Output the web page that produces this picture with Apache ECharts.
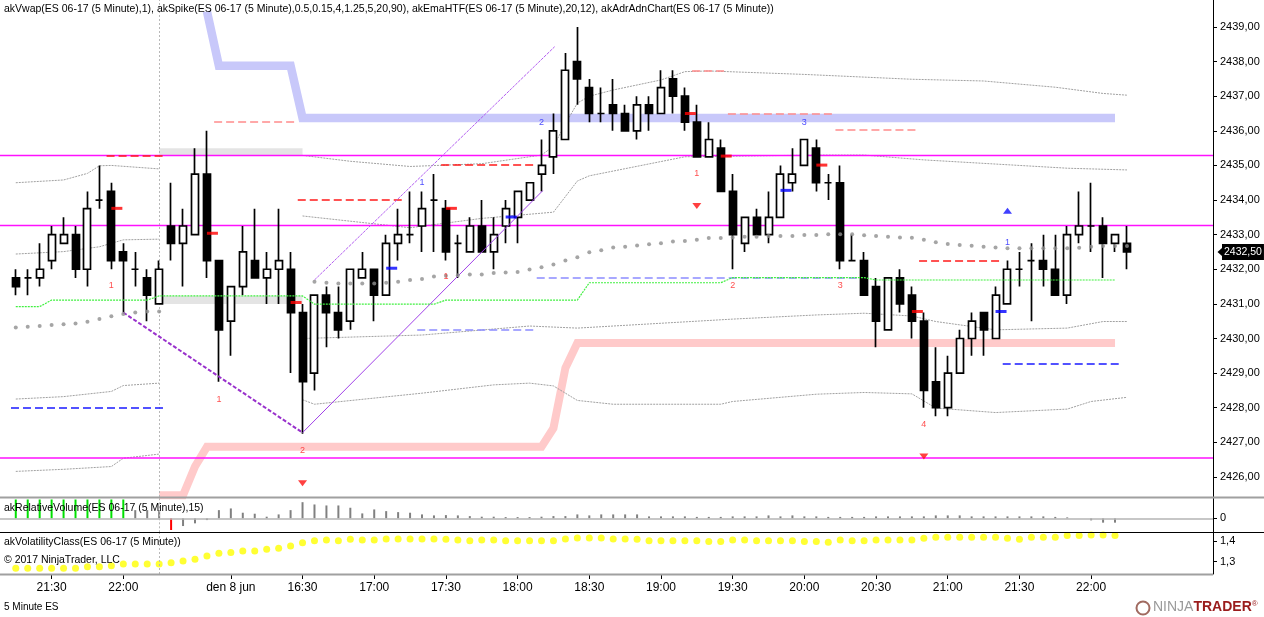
<!DOCTYPE html>
<html><head><meta charset="utf-8">
<script src="https://cdn.jsdelivr.net/npm/echarts@6/dist/echarts.min.js"></script>
<style>html,body{margin:0;padding:0;background:#fff}#c{width:1264px;height:617px}</style>
</head><body><div id="c"></div>
<script>
// ---------- categories (5 minute bars) ----------
const session1Times = ['21:15','21:20','21:25','21:30','21:35','21:40','21:45','21:50','21:55','22:00','22:05','22:10','22:15'];
const session2Times = ['15:35','15:40','15:45','15:50','15:55',
 '16:00','16:05','16:10','16:15','16:20','16:25','16:30','16:35','16:40','16:45','16:50','16:55',
 '17:00','17:05','17:10','17:15','17:20','17:25','17:30','17:35','17:40','17:45','17:50','17:55',
 '18:00','18:05','18:10','18:15','18:20','18:25','18:30','18:35','18:40','18:45','18:50','18:55',
 '19:00','19:05','19:10','19:15','19:20','19:25','19:30','19:35','19:40','19:45','19:50','19:55',
 '20:00','20:05','20:10','20:15','20:20','20:25','20:30','20:35','20:40','20:45','20:50','20:55',
 '21:00','21:05','21:10','21:15','21:20','21:25','21:30','21:35','21:40','21:45','21:50','21:55',
 '22:00','22:05','22:10','22:15'];
const times = session1Times.concat(session2Times);
const tickBars = [3, 9, 18, 24, 30, 36, 42, 48, 54, 60, 66, 72, 78, 84, 90];
const tickLabels = ['21:30','22:00','den 8 jun','16:30','17:00','17:30','18:00','18:30','19:00','19:30','20:00','20:30','21:00','21:30','22:00'];
const priceTicks = [2426,2427,2428,2429,2430,2431,2432,2433,2434,2435,2436,2437,2438,2439];
const volTicks = [0];
const volatTicks = [1.3, 1.4];
const sessionBreakBar = 12;
const lastPrice = 2432.50;

// ---------- OHLC ----------
const open = [2431.75,2431.75,2431.75,2432.25,2432.75,2433.0,2432.0,2434.0,2434.25,2432.5,2432.0,2431.75,2431.0,
 2433.25,2432.75,2433.0,2434.75,2432.25,2430.5,2431.5,2432.25,2431.75,2432.0,2432.0,2430.75,2429.0,2431.25,2430.75,2430.5,
 2431.75,2432.0,2431.25,2432.75,2433.0,2433.25,2434.0,2433.75,2432.75,2432.5,2433.25,2432.5,2433.25,2433.5,2434.0,2434.75,
 2435.25,2435.75,2438.0,2437.25,2436.5,2436.75,2436.5,2436.0,2436.75,2436.5,2437.5,2437.0,2436.25,2435.25,2435.5,2434.25,
 2432.75,2433.5,2433.0,2433.5,2434.5,2435.0,2435.5,2434.5,2434.5,2432.25,2432.25,2431.5,2430.25,2431.75,2431.25,2430.5,
 2428.75,2428.0,2429.0,2430.0,2430.75,2430.0,2431.0,2432.0,2432.25,2432.25,2432.0,2431.25,2433.0,2433.25,2433.25,2432.75,2432.75];
const close = [2431.5,2431.75,2432.0,2433.0,2433.0,2432.0,2433.75,2434.0,2432.25,2432.25,2432.0,2431.25,2432.0,
 2432.75,2433.25,2434.75,2432.25,2430.25,2431.5,2432.5,2431.75,2432.0,2432.25,2430.75,2428.75,2431.25,2430.75,2430.25,2432.0,
 2432.0,2431.25,2432.75,2433.0,2433.0,2433.75,2434.0,2432.5,2432.75,2433.25,2432.5,2433.0,2433.75,2434.25,2434.5,2435.0,
 2436.0,2437.75,2437.5,2436.5,2436.5,2436.5,2436.0,2436.75,2436.5,2437.25,2437.0,2436.25,2435.25,2435.75,2434.25,2433.0,
 2433.5,2433.0,2433.5,2434.75,2434.75,2435.75,2434.5,2434.5,2432.25,2432.25,2431.25,2430.5,2431.75,2431.0,2430.5,2428.5,
 2428.0,2429.0,2430.0,2430.5,2430.25,2431.25,2432.0,2432.0,2432.25,2432.0,2431.25,2433.0,2433.25,2433.25,2432.75,2433.0,2432.5];
const low = [2431.25,2431.25,2431.5,2432.0,2432.75,2431.75,2431.5,2433.75,2432.0,2430.75,2431.5,2430.5,2431.0,
 2432.25,2431.5,2433.0,2431.75,2428.75,2429.5,2431.25,2431.75,2431.0,2431.0,2429.0,2427.25,2428.5,2429.75,2430.0,2430.25,
 2431.75,2430.5,2431.25,2432.25,2432.75,2432.5,2432.5,2432.25,2431.75,2432.5,2432.5,2432.0,2432.75,2432.75,2434.0,2434.25,
 2434.75,2435.75,2436.75,2436.25,2436.25,2436.0,2436.0,2435.75,2436.0,2436.5,2436.5,2436.0,2435.25,2435.25,2434.25,2432.0,
 2432.5,2433.0,2432.75,2433.5,2434.25,2435.0,2434.25,2434.0,2432.0,2432.25,2431.25,2429.75,2430.25,2430.75,2430.0,2428.0,
 2427.75,2427.75,2429.0,2429.5,2429.5,2430.0,2431.0,2431.5,2430.5,2431.5,2431.25,2431.0,2432.75,2432.5,2431.75,2432.5,2432.0];
const high = [2432.0,2432.0,2432.75,2433.25,2433.5,2433.25,2434.25,2435.0,2434.5,2432.75,2432.5,2432.0,2432.25,
 2434.5,2433.75,2435.5,2436.0,2432.25,2431.5,2433.25,2433.75,2432.5,2433.75,2432.5,2431.0,2431.25,2431.5,2431.5,2432.0,
 2432.5,2432.0,2433.0,2433.75,2434.25,2434.25,2434.75,2434.0,2433.0,2433.5,2434.0,2433.5,2434.0,2434.25,2434.5,2435.75,
 2436.5,2438.25,2439.0,2437.5,2437.25,2437.5,2436.75,2437.0,2437.0,2437.75,2437.75,2437.25,2436.75,2436.25,2435.75,2434.75,
 2433.5,2433.75,2434.25,2435.0,2435.5,2435.75,2435.75,2434.75,2435.0,2433.0,2432.5,2431.75,2431.75,2432.0,2431.5,2430.75,
 2429.75,2429.5,2430.25,2430.75,2430.75,2431.5,2432.25,2432.5,2432.75,2433.0,2433.0,2433.25,2434.25,2434.5,2433.5,2433.0,2433.25];

// ---------- indicators ----------
const vwap = [2430.32,2430.34,2430.36,2430.39,2430.41,2430.43,2430.48,2430.56,2430.64,2430.71,2430.75,2430.78,2430.78,
 null,null,null,null,null,null,null,null,null,null,null,null,
 2431.64,2431.61,2431.59,2431.59,2431.59,2431.59,2431.61,2431.64,
 2431.69,2431.72,2431.79,2431.81,2431.83,2431.85,2431.85,2431.89,2431.91,2431.92,2431.99,2432.06,2432.14,2432.25,2432.35,
 2432.49,2432.55,2432.63,2432.65,2432.69,2432.72,2432.75,2432.8,2432.82,2432.85,
 2432.9,2432.9,2432.92,2432.94,2432.94,2432.96,2432.96,2432.96,
 2432.99,2432.99,2433.01,2433.01,2433.01,2432.98,2432.96,2432.94,2432.92,2432.91,2432.85,2432.78,2432.73,2432.7,2432.68,
 2432.65,2432.63,2432.61,2432.61,2432.61,2432.61,2432.61,2432.61,2432.62,2432.65,2432.67,2432.67,2432.67];
const emaHtf = [2430.92,2430.92,2430.92,2431.11,2431.11,2431.11,2431.11,2431.11,2431.11,2431.11,2431.11,2431.11,
 2431.23,2431.23,2431.23,2431.23,2431.23,2431.23,2431.23,2431.23,2431.23,2431.23,2431.23,2431.23,2431.23,
 2430.99,2430.99,2430.99,2430.99,2430.99,2430.99,2430.99,2430.99,2430.99,2430.99,2430.99,
 2431.11,2431.11,2431.11,2431.11,2431.11,2431.11,2431.11,2431.11,2431.11,2431.11,2431.11,2431.11,
 2431.61,2431.61,2431.61,2431.61,2431.61,2431.61,2431.61,2431.61,2431.61,2431.61,2431.61,2431.61,
 2431.76,2431.76,2431.76,2431.76,2431.76,2431.76,2431.76,2431.76,2431.76,2431.76,2431.76,2431.76,
 2431.69,2431.69,2431.69,2431.69,2431.69,2431.69,2431.69,2431.69,2431.69,2431.69,2431.69,2431.69,2431.69,2431.69,
 2431.69,2431.69,2431.69,2431.69,2431.69,2431.69,2431.69,null];
const htfUpper = [null,null,null,null,null,null,null,null,null,null,null,null,null,null,null,null,
 2439.45,2437.88,2437.88,2437.88,2437.88,2437.88,2437.88,2437.88,
 2436.37,2436.37,2436.37,2436.37,2436.37,2436.37,2436.37,2436.37,2436.37,2436.37,2436.37,2436.37,2436.37,2436.37,2436.37,
 2436.37,2436.37,2436.37,2436.37,2436.37,2436.37,2436.37,2436.37,2436.37,2436.37,2436.37,2436.37,2436.37,2436.37,2436.37,
 2436.37,2436.37,2436.37,2436.37,2436.37,2436.37,2436.37,2436.37,2436.37,2436.37,2436.37,2436.37,2436.37,2436.37,2436.37,
 2436.37,2436.37,2436.37,2436.37,2436.37,2436.37,2436.37,2436.37,2436.37,2436.37,2436.37,2436.37,2436.37,2436.37,2436.37,
 2436.37,2436.37,2436.37,2436.37,2436.37,2436.37,2436.37,2436.37,2436.37,null];
const htfLower = [null,null,null,null,null,null,null,null,null,null,null,null,
 2425.47,2425.47,2425.47,2426.3,
 2426.87,2426.87,2426.87,2426.87,2426.87,2426.87,2426.87,2426.87,2426.87,2426.87,2426.87,2426.87,2426.87,2426.87,
 2426.87,2426.87,2426.87,2426.87,2426.87,2426.87,2426.87,2426.87,2426.87,2426.87,2426.87,2426.87,2426.87,2426.87,2426.87,
 2427.41,2429.15,
 2429.87,2429.87,2429.87,2429.87,2429.87,2429.87,2429.87,2429.87,2429.87,2429.87,2429.87,2429.87,2429.87,2429.87,2429.87,
 2429.87,2429.87,2429.87,2429.87,2429.87,2429.87,2429.87,2429.87,2429.87,2429.87,2429.87,2429.87,2429.87,2429.87,2429.87,
 2429.87,2429.87,2429.87,2429.87,2429.87,2429.87,2429.87,2429.87,2429.87,2429.87,2429.87,2429.87,2429.87,2429.87,2429.87,
 2429.87,null];
// ADR bands: [bar, price]
const adrA1 = [[0,2434.5],[4,2434.58],[6,2434.77],[7,2434.99],[8,2435.0],[12,2434.9]];
const adrB1 = [[0,2432.44],[4,2432.51],[7,2432.65],[9,2432.85],[12,2432.87]];
const adrC1 = [[0,2428.25],[4,2428.32],[8,2428.47],[9,2428.64],[12,2428.71]];
const adrD1 = [[0,2426.16],[4,2426.22],[8,2426.3],[9,2426.54],[12,2426.66]];
const adrA2 = [[24,2435.29],[28,2435.12],[33,2434.97],[39,2435.05],[44,2435.3],[45,2435.55],[46,2436.2],[47,2436.8],[48,2437.0],[50,2437.18],[54,2437.47],[56,2437.71],[58,2437.73],[66,2437.63],[75,2437.49],[81,2437.44],[87,2437.26],[91,2437.08],[93,2437.03]];
const adrB2 = [[24,2433.54],[33,2433.2],[39,2433.47],[45,2433.65],[46,2434.1],[47,2434.55],[48,2434.7],[56,2435.25],[67,2435.3],[71,2435.3],[76,2435.16],[88,2434.92],[93,2434.87]];
const adrC2 = [[24,2430.0],[34,2430.1],[43,2430.36],[47,2430.3],[60,2430.56],[67,2430.68],[71,2430.73],[75,2430.65],[77,2430.49],[82,2430.25],[88,2430.3],[91,2430.49],[93,2430.49]];
const adrD2 = [[24,2428.23],[25,2428.1],[34,2428.42],[40,2428.66],[43,2428.71],[45,2428.63],[47,2428.21],[50,2428.1],[59,2428.1],[60,2428.18],[67,2428.39],[71,2428.44],[75,2428.4],[77,2427.99],[82,2427.86],[88,2427.96],[90,2428.18],[93,2428.3]];
// horizontal levels
const magentaLevels = [2435.29, 2433.26, 2426.54];
const levelFrom  = [0, 8, 17, 24, 36, 34, 44, 57, 60, 69, 76, 83];
const levelTo    = [12, 12, 23, 32, 43, 43, 70, 59, 68, 75, 82, 92];
const levelPrice = [2428.01, 2435.28, 2436.26, 2434.02, 2435.01, 2430.25, 2431.76, 2437.75, 2436.5, 2436.02, 2432.25, 2429.26];
const levelKind  = ['B','R','r','R','R','b','b','r','r','r','R','B'];
const boxFrom = [12, 12], boxTo = [24, 24], boxLow = [2435.28, 2431.0], boxHigh = [2435.5, 2431.23];
// spike marks
const markBars   = [8, 16, 23, 36, 56, 59, 67, 75, 31, 41, 64, 82];
const markPrices = [2433.76, 2433.04, 2431.04, 2433.76, 2436.5, 2435.27, 2435.01, 2430.78, 2432.03, 2433.51, 2434.28, 2430.78];
const markSides  = ['dn','dn','dn','dn','dn','dn','dn','dn','up','up','up','up'];
const signalBars   = [8, 17, 24, 34, 36, 44, 57, 60, 66, 69, 83, 76];
const signalPrices = [2431.52, 2428.25, 2426.76, 2434.5, 2431.79, 2436.24, 2434.77, 2431.53, 2436.24, 2431.53, 2432.77, 2427.5];
const signalTexts  = ['1','1','2','1','1','2','1','2','3','3','1','4'];
const signalSides  = ['dn','dn','dn','up','dn','up','dn','dn','up','dn','up','dn'];
const triBars = [24, 57, 76, 83], triPrices = [2425.82, 2433.83, 2426.59, 2433.69], triSides = ['dn','dn','dn','up'];
const spikeLeg   = [[9, 2430.75], [24, 2427.28]];
const channelLow = [[24, 2427.28], [44.1, 2434.27]];
const channelHigh= [[25, 2431.69], [45.1, 2438.43]];
// relative volume & volatility
const relVol = [19,19,19,19,19,19,19,19,19,19,8.3,8.3,8.3,
 -11.7,-7.7,-5,-1.7,8.3,10,5.7,4.7,1.7,4,8.3,16.3,14,13,13,10.7,5,9,7.3,6.3,5.7,4,3,3.3,3,2.3,1.7,1.7,1.3,1.3,1.3,1.7,2.3,2.3,4,3,4,4,4,4,
 2,2,2,2,1.5,1.5,1.5,2,2,2,3,2,3,2,2,1.5,1.5,1.5,1.5,2,2,2,2,2,3,3,3,2,2,2,2,2,2,2,1.5,1,0,-2,-4.3,-4.3,null];
const relVolKind = ['G','G','G','G','G','G','G','G','G','G','N','N','N','R'];
const volat = [1.268,1.268,1.268,1.268,1.268,1.268,1.276,1.276,1.281,1.289,1.289,1.289,1.289,
 1.295,1.303,1.312,1.328,1.341,1.345,1.352,1.352,1.36,1.365,1.376,1.392,1.401,1.405,1.401,1.408,1.405,1.405,
 1.41,1.41,1.41,1.41,1.41,1.408,1.405,1.401,1.405,1.405,1.401,1.401,1.401,1.401,1.401,1.41,1.414,1.414,1.414,1.41,1.41,1.408,
 1.401,1.401,1.401,1.401,1.401,1.397,1.397,1.405,1.405,1.401,1.401,1.401,1.401,1.397,1.397,1.394,1.405,1.401,1.401,
 1.405,1.405,1.405,1.405,1.413,1.418,1.418,1.418,1.418,1.418,1.418,1.413,1.408,1.418,1.418,1.418,1.426,1.426,1.429,1.429,1.426,null];

// ---------- styling / layout ----------
const FONT = '"Liberation Sans", Arial, sans-serif';
const X_MIN = -1.32, X_MAX = 100.2;
const kindColor = {R:'#ff1a1a', r:'#ff8c8c', B:'#1a1aff', b:'#8c8cff'};
const sideColor = {dn:'#ff2020', up:'#2020ff'};
const volColor = {G:'#00e000', R:'#ff0000', N:'#808080'};
const fmtPrice = v => v.toFixed(2).replace('.', ',');
const xAxisBase = (g) => ({type:'value', gridIndex:g, min:X_MIN, max:X_MAX, show:g===2,
  axisLine:{show:false}, splitLine:{show:false}, axisTick:{show:false}, axisLabel:{show:false}});

const chart = echarts.init(document.getElementById('c'), null, {renderer:'canvas'});
const candleData = open.map((o,i)=>[i, o, close[i], low[i], high[i]]);
const idx = arr => arr.map((v,i)=>[i, v]);

const series = [];
// background boxes + session break
series.push({type:'line', xAxisIndex:0, yAxisIndex:0, data:[], z:1, silent:true,
  markArea:{silent:true, itemStyle:{color:'#e4e4e4'},
    data: boxFrom.map((f,k)=>[{xAxis:f, yAxis:boxLow[k]}, {xAxis:boxTo[k], yAxis:boxHigh[k]}])},
  markLine:{silent:true, symbol:'none', animation:false, label:{show:false},
    lineStyle:{color:'#b8b8b8', type:[2,2], width:1}, data:[{xAxis:sessionBreakBar}]}
});
// HTF bands
series.push({type:'line', xAxisIndex:0, yAxisIndex:0, data:idx(htfUpper), showSymbol:false, z:2, silent:true,
  lineStyle:{color:'#c8c8fa', width:8.5, cap:'butt', join:'miter'}, animation:false});
series.push({type:'line', xAxisIndex:0, yAxisIndex:0, data:idx(htfLower), showSymbol:false, z:2, silent:true,
  lineStyle:{color:'#ffcaca', width:8, cap:'butt', join:'miter'}, animation:false});
// ADR lines
[adrA1,adrB1,adrC1,adrD1,adrA2,adrB2,adrC2,adrD2].forEach(a=>{
  series.push({type:'line', xAxisIndex:0, yAxisIndex:0, data:a, showSymbol:false, z:2, silent:true,
    lineStyle:{color:'#a0a0a0', width:1, type:[2,1]}, animation:false});
});
// candles
series.push({type:'candlestick', xAxisIndex:0, yAxisIndex:0, data:candleData, encode:{x:0, y:[1,2,3,4]},
  barWidth:7.5, z:5, silent:true, animation:false,
  itemStyle:{color:'#ffffff', color0:'#000000', borderColor:'#000000', borderColor0:'#000000', borderColorDoji:'#000000', borderWidth:1.7},
  markLine:{silent:true, symbol:'none', animation:false, lineStyle:{color:'rgba(0,0,0,0)', width:0},
    label:{show:true, position:'end', distance:9, formatter:()=>fmtPrice(lastPrice), backgroundColor:'#000', color:'#fff',
      padding:[3,2,2,2], fontSize:10.5, fontFamily:FONT},
    data:[{yAxis:lastPrice}]},
  markPoint:{silent:true, animation:false, label:{show:false},
    data:[{coord:[X_MAX, lastPrice], symbol:'triangle', symbolSize:[16,9], symbolRotate:90, symbolOffset:[9,0], itemStyle:{color:'#000'}}]}
});
// green EMA HTF
series.push({type:'line', xAxisIndex:0, yAxisIndex:0, data:idx(emaHtf), showSymbol:false, z:6, silent:true,
  lineStyle:{color:'#40f040', width:1.2, type:[2,1]}, animation:false});
// magenta + dashed levels
series.push({type:'line', xAxisIndex:0, yAxisIndex:0, data:[], z:6, silent:true,
  markLine:{silent:true, symbol:'none', animation:false, label:{show:false},
    data: magentaLevels.map((p,k)=>({yAxis:p, lineStyle:{color:'#ff10ff', width:k===2?1.6:1.3, type:'solid'}}))
      .concat(levelFrom.map((f,k)=>[
        {coord:[f-0.4, levelPrice[k]], lineStyle:{color:kindColor[levelKind[k]], width:1.5, type:[8,4]}},
        {coord:[levelTo[k]+0.4, levelPrice[k]]}]))
  }});
// purple spike lines
series.push({type:'line', xAxisIndex:0, yAxisIndex:0, data:spikeLeg, showSymbol:false, z:6, silent:true,
  lineStyle:{color:'#9932cc', width:2, type:[4,2]}, animation:false});
series.push({type:'line', xAxisIndex:0, yAxisIndex:0, data:channelLow, showSymbol:false, z:6, silent:true,
  lineStyle:{color:'#a040e8', width:1}, animation:false});
series.push({type:'line', xAxisIndex:0, yAxisIndex:0, data:channelHigh, showSymbol:false, z:6, silent:true,
  lineStyle:{color:'#b25cf0', width:1, type:[3,1]}, animation:false});
// vwap dots
series.push({type:'scatter', xAxisIndex:0, yAxisIndex:0, data:idx(vwap).filter(d=>d[1]!=null), symbolSize:4, z:7, silent:true,
  itemStyle:{color:'#8e8e8e'}, animation:false});
// spike tick marks
series.push({type:'scatter', xAxisIndex:0, yAxisIndex:0, z:8, silent:true, animation:false,
  symbol:'rect', symbolSize:[11,3], symbolOffset:[5.5,0],
  data: markBars.map((b,k)=>({value:[b, markPrices[k]], itemStyle:{color: markSides[k]==='dn' ? '#ff0000' : '#0000ff'}}))});
// signal numbers
series.push({type:'scatter', xAxisIndex:0, yAxisIndex:0, z:8, silent:true, animation:false, symbolSize:1,
  itemStyle:{color:'rgba(0,0,0,0)'},
  data: signalBars.map((b,k)=>({value:[b, signalPrices[k]], name:signalTexts[k],
    label:{show:true, position:'inside', formatter:signalTexts[k], color:sideColor[signalSides[k]], fontSize:9, fontFamily:FONT}}))});
// triangles
series.push({type:'scatter', xAxisIndex:0, yAxisIndex:0, z:8, silent:true, animation:false, symbol:'triangle', symbolSize:[9,6],
  data: triBars.map((b,k)=>({value:[b, triPrices[k]], symbolRotate: triSides[k]==='dn'?180:0,
    itemStyle:{color: triSides[k]==='dn' ? '#ff1010' : '#1010ff'}}))});

// relative volume panel
series.push({type:'bar', xAxisIndex:1, yAxisIndex:1, barWidth:2, z:3, silent:true, animation:false,
  data: relVol.map((v,i)=>({value:[i, v], itemStyle:{color: volColor[relVolKind[i] || 'N']}})).filter(d=>d.value[1]!=null),
  markLine:{silent:true, symbol:'none', animation:false, label:{show:false},
    data:[{yAxis:0, lineStyle:{color:'#b4b4b4', width:1.5, type:'solid'}},
          {xAxis:sessionBreakBar, lineStyle:{color:'#b8b8b8', width:1, type:[2,2]}}]}
});
// volatility panel
series.push({type:'scatter', xAxisIndex:2, yAxisIndex:2, symbolSize:7, z:3, silent:true, animation:false,
  itemStyle:{color:'#ffff00'}, data: idx(volat).filter(d=>d[1]!=null),
  markLine:{silent:true, symbol:'none', animation:false, label:{show:false},
    data:[{xAxis:sessionBreakBar, lineStyle:{color:'#b8b8b8', width:1, type:[2,2]}}]}
});

const yAxisStyle = {position:'right', axisLine:{show:true, onZero:false, lineStyle:{color:'#000', width:1}},
  splitLine:{show:false}};
const option = {
  animation:false,
  textStyle:{fontFamily:FONT},
  grid:[
    {left:0, top:0, width:1213, height:497},
    {left:0, top:498.5, width:1213, height:33.8},
    {left:0, top:532.3, width:1213, height:41.7}
  ],
  xAxis:[
    xAxisBase(0), xAxisBase(1),
    Object.assign(xAxisBase(2), {show:true,
      axisTick:{show:true, customValues:tickBars, length:5, lineStyle:{color:'#000', width:1}},
      axisLabel:{show:true, customValues:tickBars, margin:8, fontSize:12, color:'#000', fontFamily:FONT,
        formatter:(v)=>{const k = tickBars.indexOf(Math.round(v)); return k>=0 ? tickLabels[k] : '';}}})
  ],
  yAxis:[
    Object.assign({type:'value', gridIndex:0, min:2425.42, max:2439.78,
      axisTick:{show:true, customValues:priceTicks, length:4, lineStyle:{color:'#000'}},
      axisLabel:{customValues:priceTicks, formatter:fmtPrice, fontSize:11, color:'#000', margin:7, fontFamily:FONT}}, yAxisStyle),
    Object.assign({type:'value', gridIndex:1, min:-14, max:20,
      axisTick:{show:true, customValues:volTicks, length:4, lineStyle:{color:'#000'}},
      axisLabel:{customValues:volTicks, formatter:(v)=>String(v), fontSize:11, color:'#000', margin:7, fontFamily:FONT}}, yAxisStyle),
    Object.assign({type:'value', gridIndex:2, min:1.2406, max:1.442,
      axisTick:{show:true, customValues:volatTicks, length:4, lineStyle:{color:'#000'}},
      axisLabel:{customValues:volatTicks, formatter:(v)=>v.toFixed(1).replace('.', ','), fontSize:11, color:'#000', margin:7, fontFamily:FONT}}, yAxisStyle)
  ],
  series: series,
  graphic:[
    {type:'line', silent:true, z:50, shape:{x1:0, y1:497.5, x2:1264, y2:497.5}, style:{stroke:'#a0a0a0', lineWidth:2}},
    {type:'line', silent:true, z:50, shape:{x1:0, y1:532.5, x2:1264, y2:532.5}, style:{stroke:'#000', lineWidth:1}},
    {type:'line', silent:true, z:50, shape:{x1:0, y1:574.5, x2:1213, y2:574.5}, style:{stroke:'#a0a0a0', lineWidth:2}},
    {type:'text', silent:true, z:60, left:4, top:4, style:{text:'akVwap(ES 06-17 (5 Minute),1), akSpike(ES 06-17 (5 Minute),0.5,0.15,4,1.25,5,20,90), akEmaHTF(ES 06-17 (5 Minute),20,12), akAdrAdnChart(ES 06-17 (5 Minute))', fill:'#000', font:'10.5px '+FONT}},
    {type:'text', silent:true, z:60, left:4, top:502.5, style:{text:'akRelativeVolume(ES 06-17 (5 Minute),15)', fill:'#000', font:'10.5px '+FONT}},
    {type:'text', silent:true, z:60, left:4, top:537, style:{text:'akVolatilityClass(ES 06-17 (5 Minute))', fill:'#000', font:'10.5px '+FONT}},
    {type:'text', silent:true, z:60, left:4, top:554.5, style:{text:'\u00a9 2017 NinjaTrader, LLC', fill:'#000', font:'10.5px '+FONT}},
    {type:'text', silent:true, z:60, left:4, top:602, style:{text:'5 Minute ES', fill:'#000', font:'10px '+FONT}},
    {type:'circle', silent:true, z:60, shape:{cx:1143, cy:608, r:6.5}, style:{fill:'none', stroke:'#a06a60', lineWidth:2}},
    {type:'text', silent:true, z:60, left:1153, top:600, style:{
      text:'{a|NINJA}{b|TRADER}{c|\u00ae}',
      rich:{a:{fill:'#9a9a9a', font:'14px '+FONT, fontSize:14}, b:{fill:'#9a1c1c', fontSize:14, fontWeight:'bold'}, c:{fill:'#9a1c1c', fontSize:8, verticalAlign:'top'}}}}
  ]
};
chart.setOption(option);
</script>
</body></html>
